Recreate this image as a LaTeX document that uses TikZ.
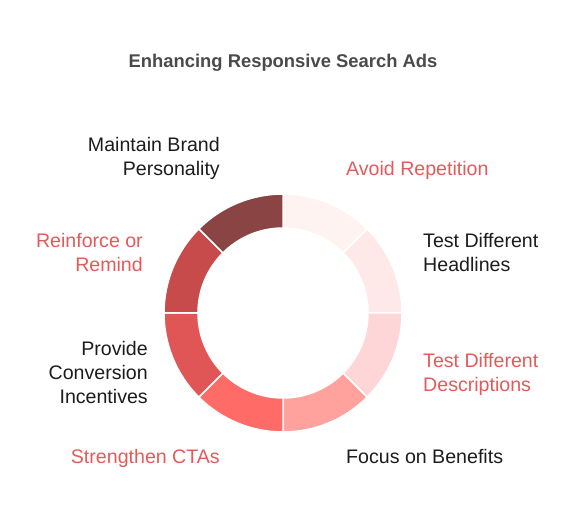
\documentclass[tikz,border=0pt]{standalone}
\usepackage{fontspec}
\setmainfont{Liberation Sans}
\usetikzlibrary{calc}
\definecolor{ringA}{HTML}{FFF3F2}
\definecolor{ringB}{HTML}{FFE8E8}
\definecolor{ringC}{HTML}{FFD6D8}
\definecolor{ringD}{HTML}{FFA19D}
\definecolor{ringE}{HTML}{FF6B66}
\definecolor{ringF}{HTML}{E05555}
\definecolor{ringG}{HTML}{C64B4A}
\definecolor{ringH}{HTML}{8B4444}
\definecolor{txtred}{HTML}{E45A5A}
\definecolor{txtdark}{HTML}{1C1C1C}
\definecolor{titlegray}{HTML}{4A4A4A}
\begin{document}
\begin{tikzpicture}[x=1pt, y=1pt,
  lbl/.style={font=\fontsize{19.6}{24}\selectfont, inner sep=0pt},
  lblred/.style={lbl, text=txtred},
  lbldark/.style={lbl, text=txtdark}]
  \useasboundingbox (0,0) rectangle (578,519);
  \coordinate (hub) at (283,206);
  % ring, clockwise from the top
  \foreach \col [count=\i from 0] in {ringA,ringB,ringC,ringD,ringE,ringF,ringG,ringH}
    \filldraw[fill=\col, draw=white, line width=1.5pt]
      ($(hub)+({90-45*\i}:119)$) arc[start angle={90-45*\i}, end angle={45-45*\i}, radius=119]
      -- ($(hub)+({45-45*\i}:85)$) arc[start angle={45-45*\i}, end angle={90-45*\i}, radius=85] -- cycle;
  \node[font=\fontsize{18.4}{22}\selectfont\bfseries, text=titlegray, anchor=base] (title) at (283,451) {Enhancing Responsive Search Ads};
  % labels (base = last line)
  \node[lbldark, align=right, anchor=base east] (brand) at (220,343) {Maintain Brand\\Personality};
  \node[lblred, align=right, anchor=base east] (remind) at (143,247) {Reinforce or\\Remind};
  \node[lbldark, align=right, anchor=base east] (incent) at (148,115) {Provide\\Conversion\\Incentives};
  \node[lblred, anchor=base east] (ctas) at (220,55) {Strengthen CTAs};
  \node[lbldark, anchor=base west] (benefits) at (346,55) {Focus on Benefits};
  \node[lblred, align=left, anchor=base west] (descr) at (423,127) {Test Different\\Descriptions};
  \node[lbldark, align=left, anchor=base west] (heads) at (423,247) {Test Different\\Headlines};
  \node[lblred, anchor=base west] (repeat) at (346,343) {Avoid Repetition};
\end{tikzpicture}
\end{document}
